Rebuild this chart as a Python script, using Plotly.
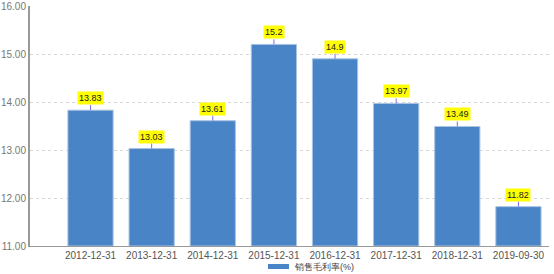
import plotly.graph_objects as go

categories = ["2012-12-31", "2013-12-31", "2014-12-31", "2015-12-31",
              "2016-12-31", "2017-12-31", "2018-12-31", "2019-09-30"]
values = [13.83, 13.03, 13.61, 15.2, 14.9, 13.97, 13.49, 11.82]
value_labels = ["13.83", "13.03", "13.61", "15.2", "14.9", "13.97", "13.49", "11.82"]
series_name = "销售毛利率(%)"
y_ticks = [11, 12, 13, 14, 15, 16]
bar_color = "#4884c6"

fig = go.Figure()
fig.add_trace(go.Bar(
    x=list(range(len(categories))), y=[v - 11 for v in values], base=11,
    name=series_name, width=0.74,
    marker=dict(color=bar_color, line=dict(color="#a9c3e3", width=1)),
    showlegend=False,
))

for i, (v, t) in enumerate(zip(values, value_labels)):
    fig.add_annotation(
        x=i, y=v, text=t, showarrow=True, arrowhead=0, arrowwidth=1,
        arrowcolor="#7b6ee8", ax=0, ay=-5, yanchor="bottom",
        bgcolor="#ffff00", borderpad=1,
        font=dict(family="Arial", size=9, color="#222222"),
    )

# legend (custom, wide swatch like the reference)
fig.add_shape(type="rect", xref="paper", yref="paper",
              x0=(268 - 30) / 519, x1=(289 - 30) / 519,
              y0=-(264 - 246) / 240, y1=-(269 - 246) / 240,
              fillcolor=bar_color, line=dict(width=0))
fig.add_annotation(xref="paper", yref="paper", x=(292 - 30) / 519, xanchor="left",
                   y=-(266.5 - 246) / 240, yanchor="middle", showarrow=False,
                   text=series_name, font=dict(size=9, color="#444444"))

fig.update_layout(
    width=554, height=274,
    margin=dict(l=30, r=5, t=6, b=28, autoexpand=False),
    plot_bgcolor="white", paper_bgcolor="white",
    font=dict(family="Arial", size=10, color="#666666"),
    showlegend=False,
    xaxis=dict(
        range=[-0.99, 7.5], tickmode="array",
        tickvals=list(range(len(categories))), ticktext=categories,
        showgrid=False, showline=True, linecolor="#999999", linewidth=1,
        ticks="", tickfont=dict(size=10, color="#555555"), zeroline=False,
    ),
    yaxis=dict(
        range=[11, 16], tickmode="array", tickvals=y_ticks,
        ticktext=[f"{t:.2f}" for t in y_ticks],
        showgrid=True, gridcolor="#d8d8d8", griddash="dot", gridwidth=1,
        showline=True, linecolor="#999999", linewidth=2,
        ticks="", tickfont=dict(size=10, color="#777777"), zeroline=False,
    ),
)

fig.write_html("out.html")
